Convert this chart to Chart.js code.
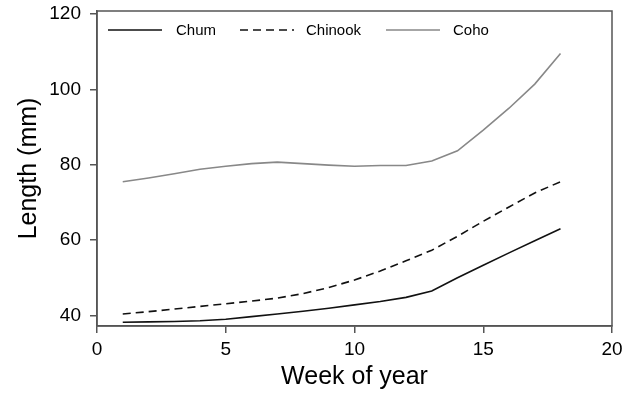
<!DOCTYPE html>
<html>
<head>
<meta charset="utf-8">
<script src="https://cdn.jsdelivr.net/npm/chart.js@4.4.1/dist/chart.umd.min.js"></script>
<style>
    html, body { margin: 0; padding: 0; background: #fff; }
    #wrap { width: 630px; height: 395px; }
</style>
</head>
<body>
<div id="wrap"><canvas id="fish-canvas" width="630" height="395"></canvas></div>
<script>
    const weeks = [1, 2, 3, 4, 5, 6, 7, 8, 9, 10, 11, 12, 13, 14, 15, 16, 17, 18];
    const chum = [38.2, 38.3, 38.4, 38.6, 39.0, 39.7, 40.4, 41.1, 41.9, 42.8, 43.7, 44.8, 46.5, 50.0, 53.3, 56.6, 59.8, 63.0];
    const chinook = [40.4, 41.0, 41.7, 42.4, 43.1, 43.8, 44.6, 45.8, 47.4, 49.4, 51.8, 54.5, 57.3, 61.0, 65.0, 68.8, 72.5, 75.5];
    const coho = [75.5, 76.5, 77.6, 78.8, 79.6, 80.3, 80.7, 80.3, 79.9, 79.6, 79.8, 79.8, 81.0, 83.7, 89.2, 95.0, 101.4, 109.5];
    const seriesNames = ['Chum', 'Chinook', 'Coho'];
    const xTicks = [0, 5, 10, 15, 20];
    const yTicks = [40, 60, 80, 100, 120];

    const axisColor = '#555';
    const fontFamily = '"Liberation Sans", Arial, sans-serif';

    function points(values) {
        return weeks.map((w, i) => ({ x: w, y: values[i] }));
    }

    // frame round the plot area plus the legend inside it
    const frameAndLegend = {
        id: 'frameAndLegend',
        afterDraw(chart) {
            const { ctx, chartArea } = chart;
            ctx.save();
            ctx.strokeStyle = axisColor;
            ctx.lineWidth = 1.5;
            ctx.strokeRect(chartArea.left, chartArea.top, chartArea.right - chartArea.left, chartArea.bottom - chartArea.top);

            const y = 30;
            const entries = [
                { x: 108, textX: 176 },
                { x: 240, textX: 306 },
                { x: 386, textX: 453 }
            ];
            ctx.font = '15px ' + fontFamily;
            ctx.textBaseline = 'middle';
            ctx.fillStyle = '#000';
            chart.data.datasets.forEach((ds, i) => {
                const e = entries[i];
                ctx.beginPath();
                ctx.strokeStyle = ds.borderColor;
                ctx.lineWidth = ds.borderWidth;
                ctx.setLineDash(ds.borderDash || []);
                ctx.moveTo(e.x, y);
                ctx.lineTo(e.x + 54, y);
                ctx.stroke();
                ctx.setLineDash([]);
                ctx.fillText(ds.label, e.textX, y + 1);
            });
            ctx.restore();
        }
    };

    const ctx = document.getElementById('fish-canvas').getContext('2d');
    new Chart(ctx, {
        type: 'line',
        data: {
            datasets: [{
                label: seriesNames[0],
                data: points(chum),
                borderColor: '#111',
                borderWidth: 1.6,
                pointRadius: 0,
                tension: 0
            }, {
                label: seriesNames[1],
                data: points(chinook),
                borderColor: '#111',
                borderWidth: 1.6,
                borderDash: [8, 5],
                pointRadius: 0,
                tension: 0
            }, {
                label: seriesNames[2],
                data: points(coho),
                borderColor: '#888',
                borderWidth: 1.6,
                pointRadius: 0,
                tension: 0
            }]
        },
        options: {
            responsive: false,
            animation: false,
            layout: { padding: { top: 11, right: 18, left: 0, bottom: 0 } },
            plugins: {
                legend: { display: false },
                tooltip: { enabled: false }
            },
            scales: {
                x: {
                    type: 'linear',
                    min: 0,
                    max: 20,
                    afterBuildTicks: (scale) => { scale.ticks = xTicks.map(v => ({ value: v })); },
                    afterFit: (scale) => {
                        scale.height = 69;
                        scale.paddingLeft = 0;
                        scale.paddingRight = 0;
                    },
                    grid: { drawOnChartArea: false, drawTicks: true, tickLength: 7, color: axisColor, lineWidth: 1.5 },
                    border: { display: true, color: axisColor, width: 1.5 },
                    ticks: { color: '#000', padding: 5, maxRotation: 0, font: { family: fontFamily, size: 19 } },
                    title: { display: true, text: 'Week of year', color: '#000', padding: { top: 0, bottom: 3 }, font: { family: fontFamily, size: 25 } }
                },
                y: {
                    type: 'linear',
                    min: 37.2,
                    max: 120.8,
                    afterBuildTicks: (scale) => { scale.ticks = yTicks.map(v => ({ value: v })); },
                    afterFit: (scale) => {
                        scale.width = 97;
                        scale.paddingTop = 0;
                        scale.paddingBottom = 0;
                    },
                    grid: { drawOnChartArea: false, drawTicks: true, tickLength: 7, color: axisColor, lineWidth: 1.5 },
                    border: { display: true, color: axisColor, width: 1.5 },
                    ticks: { color: '#000', padding: 9, font: { family: fontFamily, size: 19 } },
                    title: { display: true, text: 'Length (mm)', color: '#000', padding: { top: 14, bottom: 0 }, font: { family: fontFamily, size: 25 } }
                }
            }
        },
        plugins: [frameAndLegend]
    });
</script>
</body>
</html>
